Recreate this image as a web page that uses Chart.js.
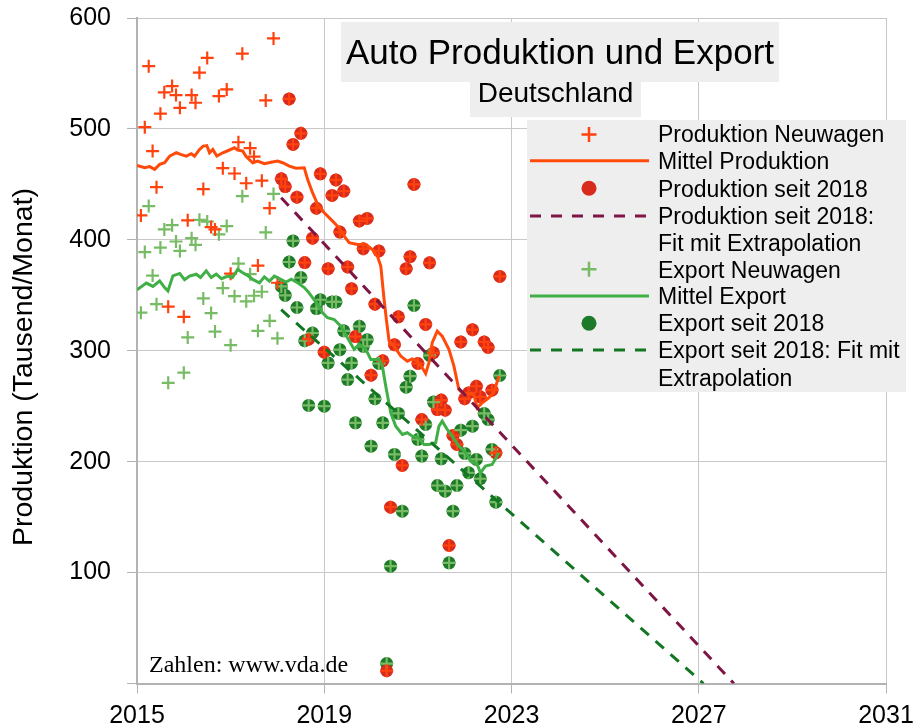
<!DOCTYPE html>
<html><head><meta charset="utf-8">
<script src="https://cdn.jsdelivr.net/npm/chart.js@4.4.1/dist/chart.umd.min.js"></script>
<style>html,body{margin:0;padding:0;background:#fff;}#wrap{width:919px;height:728px;}</style>
</head><body><div id="wrap"><canvas id="c" width="919" height="728"></canvas></div>
<script>
// ---------- data (Tausend Pkw pro Monat), Jan 2015 .. Sep 2022 ----------
const startYear = 2015;
const produktion = [
  422, 501.6, 556.6, 480, 447.5, 513.7, 533, 339.7, 538.6, 530.5, 519, 330.6,
  417.6, 530.5, 523.6, 550.7, 445.8, 564, 411.5, 409.4, 529.6, 464.6, 535.6, 369.5,
  459.8, 488, 567.8, 451, 482.6, 475, 376.8, 453.3, 525.7, 428.5, 581.6, 361.3,
  455, 448, 527, 486, 438.5, 496, 379.5, 310.4, 401.5, 428.5, 459.5, 298.7,
  374, 440, 454, 407, 444, 375.5, 356, 312.8, 417, 392, 419.3, 278,
  342, 390, 291, 11.5, 159, 305.5, 330.6, 196.6, 374, 384.8, 450, 288.5,
  238, 323.7, 379.3, 298.2, 247, 255.5, 246.4, 124.4, 223.6, 215.5, 308, 256.7,
  262, 319, 268, 258.5, 308, 303, 264.5, 208, 367
];
const exporte = [
  334.3, 389, 430.4, 367.8, 342, 393, 409.4, 271.1, 413.2, 398.5, 390, 280.2,
  312, 401.5, 395.5, 418, 347.2, 416.5, 334, 317.3, 405, 356.5, 412.4, 305,
  349.2, 378.6, 439.4, 344.6, 369, 349.6, 318, 353.2, 406.7, 327, 441.4, 311.2,
  358, 350, 380, 399, 339, 366, 309, 250.7, 316, 338, 346, 250,
  289, 344, 344, 301, 318, 274, 289, 235, 322, 304, 310, 214,
  256.7, 288.5, 235, 18, 105.8, 206.5, 243.5, 155.4, 267.2, 277.1, 340.8, 220,
  205, 233.5, 295.8, 253.7, 178.5, 202.6, 173.4, 108.8, 155.4, 178.5, 228.4, 207.4,
  190, 232, 202, 184.6, 243.5, 238, 211, 163.5, 277.7
];
const seit2018Start = 36; // index of Jan 2018

const mittelProdX = [2015.00,2015.164,2015.271,2015.377,2015.484,2015.590,2015.697,2015.840,2015.931,2016.053,2016.159,2016.229,2016.336,2016.415,2016.492,2016.549,2016.619,2016.705,2016.833,2016.975,2017.082,2017.152,2017.259,2017.331,2017.472,2017.578,2017.721,2017.864,2018.004,2018.111,2018.254,2018.397,2018.573,2018.644,2018.750,2018.857,2019.000,2019.142,2019.283,2019.426,2019.532,2019.709,2019.888,2020.029,2020.135,2020.208,2020.278,2020.327,2020.385,2020.491,2020.634,2020.774,2020.881,2020.988,2021.094,2021.167,2021.237,2021.307,2021.414,2021.520,2021.663,2021.770,2021.876,2021.983,2022.089,2022.196,2022.266,2022.373,2022.516,2022.622,2022.729];
const mittelProdY = [467,465,466,463.5,468,469.5,475.5,478.5,477,475.5,477.6,475.5,481.5,484.5,485,478.5,481.5,475.5,478.5,481,483,481,480,475,469.5,471,468.6,470,471,469.5,466.5,464.5,465,454.5,442.5,432,424.4,418.4,412.4,403.4,397.4,395.9,395.9,391.3,385.3,376.3,346.3,328.2,308.7,304.2,295.2,290.6,292.7,290.6,284.7,279.5,289.2,307.2,317.7,313.2,301.2,286.1,265.1,260.6,261.5,260.6,248.6,253,257.6,262.1,277.1];
const mittelExportX = [2015.00,2015.200,2015.341,2015.484,2015.590,2015.661,2015.767,2015.910,2016.016,2016.123,2016.266,2016.357,2016.479,2016.585,2016.692,2016.805,2016.939,2017.039,2017.152,2017.259,2017.359,2017.472,2017.615,2017.721,2017.828,2017.934,2018.041,2018.183,2018.296,2018.431,2018.573,2018.659,2018.750,2018.857,2018.963,2019.070,2019.213,2019.355,2019.496,2019.639,2019.745,2019.888,2019.995,2020.172,2020.242,2020.314,2020.421,2020.527,2020.668,2020.774,2020.881,2021.003,2021.130,2021.237,2021.380,2021.450,2021.520,2021.627,2021.733,2021.876,2022.019,2022.125,2022.266,2022.338,2022.445,2022.586,2022.692,2022.729];
const mittelExportY = [355,361,358,363,357,354,367.5,369.7,364,367.3,369,366,372,366,369,365,367.3,366,373.3,370.3,368,364.3,361.3,366.7,362.8,367.3,365,362,364.5,361.3,357,353,347.8,341.8,334.3,329.8,328.2,322.2,311.7,301.2,305.7,301.2,292.2,292.2,286.1,268,244.1,232,224.5,226.1,223,222,215.5,215.5,217,232,236.5,229,223,214,208,200.5,197.5,190,196,197.5,205,208];

const fitProdX = [2018.08, 2027.75];
const fitProdY = [438, 0];
const fitExportX = [2018.08, 2027.1];
const fitExportY = [337, 0];

const xTicks = [2015, 2019, 2023, 2027, 2031];
const yTicks = [0, 100, 200, 300, 400, 500, 600];

const titleText = 'Auto Produktion und Export';
const subtitleText = 'Deutschland';
const yTitle = 'Produktion (Tausend/Monat)';
const sourceText = 'Zahlen: www.vda.de';
const legendLines = [
  'Produktion Neuwagen', 'Mittel Produktion', 'Produktion seit 2018', 'Produktion seit 2018:',
  'Fit mit Extrapolation', 'Export Neuwagen', 'Mittel Export', 'Export seit 2018',
  'Export seit 2018: Fit mit', 'Extrapolation'
];

// ---------- colours ----------
const C = {
  prodCross: '#ff420e', prodLine: '#ff4a0a', prodDot: '#d92b1c', prodFit: '#7e1545',
  expCross: '#77bc65', expLine: '#3faf46', expDot: '#1c7a28', expFit: '#127622'
};

// ---------- build point lists ----------
const monthX = i => startYear + (i + 1) / 12;
const pts = (arr, from) => arr.slice(from).map((v, j) => ({ x: monthX(j + from), y: v }));
const xy = (xs, ys) => xs.map((x, i) => ({ x: x, y: ys[i] }));

Chart.defaults.font.family = '"Liberation Sans", Arial, sans-serif';
Chart.defaults.color = '#000';

const overlay = {
  id: 'overlay',
  afterDraw(chart) {
    const ctx = chart.ctx;
    ctx.save();
    // y axis title
    ctx.save();
    ctx.translate(32, 367);
    ctx.rotate(-Math.PI / 2);
    ctx.font = '28.5px "Liberation Sans"';
    ctx.fillStyle = '#000';
    ctx.textAlign = 'center';
    ctx.textBaseline = 'alphabetic';
    ctx.fillText(yTitle, 0, 0);
    ctx.restore();
    // title boxes
    ctx.fillStyle = '#eeeeee';
    ctx.fillRect(341, 22, 438, 60);
    ctx.fillRect(470, 82, 171, 35);
    ctx.fillStyle = '#000';
    ctx.textAlign = 'center';
    ctx.textBaseline = 'alphabetic';
    ctx.font = '35px "Liberation Sans"';
    ctx.fillText(titleText, 560, 64);
    ctx.font = '28px "Liberation Sans"';
    ctx.fillText(subtitleText, 555.5, 102);
    // source
    ctx.textAlign = 'left';
    ctx.font = '24px "Liberation Serif"';
    ctx.fillText(sourceText, 149, 672);
    // legend
    ctx.fillStyle = '#eeeeee';
    ctx.fillRect(527, 120, 379, 272);
    const rows = [134, 161.7, 189, 216, 243.3, 270, 296.7, 323.3, 350.7, 378.3];
    ctx.fillStyle = '#000';
    ctx.font = '23px "Liberation Sans"';
    ctx.textAlign = 'left';
    legendLines.forEach((t, i) => ctx.fillText(t, 658, rows[i] + 7.7));
    const sx = 589;
    const cross = (y, col) => {
      ctx.strokeStyle = col; ctx.lineWidth = 2.5; ctx.beginPath();
      ctx.moveTo(sx - 7.5, y); ctx.lineTo(sx + 7.5, y);
      ctx.moveTo(sx, y - 7.5); ctx.lineTo(sx, y + 7.5); ctx.stroke();
    };
    const line = (y, col, dash) => {
      ctx.strokeStyle = col; ctx.lineWidth = 3; ctx.setLineDash(dash || []);
      ctx.beginPath(); ctx.moveTo(530, y); ctx.lineTo(649, y); ctx.stroke(); ctx.setLineDash([]);
    };
    const dot = (y, col) => {
      ctx.fillStyle = col; ctx.beginPath(); ctx.arc(sx, y, 7.5, 0, Math.PI * 2); ctx.fill();
    };
    cross(134.5, C.prodCross);
    line(160.7, C.prodLine);
    dot(188.3, C.prodDot);
    line(216, C.prodFit, [11, 10]);
    cross(269.3, C.expCross);
    line(296, C.expLine);
    dot(323.3, C.expDot);
    line(350, C.expFit, [11, 10]);
    ctx.restore();
  }
};

new Chart(document.getElementById('c'), {
  type: 'scatter',
  data: {
    datasets: [
      { label: 'Produktion seit 2018: Fit mit Extrapolation', data: xy(fitProdX, fitProdY), showLine: true,
        borderColor: C.prodFit, borderWidth: 3, borderDash: [11, 9], pointRadius: 0, order: 1 },
      { label: 'Export seit 2018: Fit mit Extrapolation', data: xy(fitExportX, fitExportY), showLine: true,
        borderColor: C.expFit, borderWidth: 3, borderDash: [11, 9], pointRadius: 0, order: 2 },
      { label: 'Mittel Produktion', data: xy(mittelProdX, mittelProdY), showLine: true,
        borderColor: C.prodLine, borderWidth: 3, pointRadius: 0, order: 3 },
      { label: 'Mittel Export', data: xy(mittelExportX, mittelExportY), showLine: true,
        borderColor: C.expLine, borderWidth: 3, pointRadius: 0, order: 4 },
      { label: 'Produktion Neuwagen', data: pts(produktion, 0), pointStyle: 'cross',
        pointRadius: 6.5, borderColor: C.prodCross, borderWidth: 2.2, backgroundColor: C.prodCross, order: 5 },
      { label: 'Export Neuwagen', data: pts(exporte, 0), pointStyle: 'cross',
        pointRadius: 6.5, borderColor: C.expCross, borderWidth: 2.2, backgroundColor: C.expCross, order: 6 },
      { label: 'Produktion seit 2018', data: pts(produktion, seit2018Start), pointStyle: 'circle',
        pointRadius: 6.5, borderWidth: 0, backgroundColor: C.prodDot, borderColor: C.prodDot, order: 7 },
      { label: 'Export seit 2018', data: pts(exporte, seit2018Start), pointStyle: 'circle',
        pointRadius: 6.5, borderWidth: 0, backgroundColor: C.expDot, borderColor: C.expDot, order: 8 }
    ]
  },
  options: {
    responsive: false,
    animation: false,
    devicePixelRatio: 1,
    layout: { padding: { top: 18, right: 33, left: 0, bottom: 0 } },
    plugins: { legend: { display: false }, tooltip: { enabled: false } },
    scales: {
      x: {
        type: 'linear', min: xTicks[0], max: xTicks[xTicks.length - 1],
        afterBuildTicks: s => { s.ticks = xTicks.map(v => ({ value: v })); },
        afterFit: s => { s.height = 44.5; s.paddingLeft = 0; s.paddingRight = 0; },
        ticks: { font: { size: 25 }, color: '#000', padding: 8, maxRotation: 0, callback: v => String(v) },
        grid: { color: '#c8c8c8', lineWidth: 1, tickLength: 10, tickColor: '#b3b3b3' },
        border: { color: '#b3b3b3', width: 2 }
      },
      y: {
        min: yTicks[0], max: yTicks[yTicks.length - 1],
        afterBuildTicks: s => { s.ticks = yTicks.map(v => ({ value: v })); },
        afterFit: s => { s.width = 137; s.paddingTop = 0; s.paddingBottom = 0; },
        ticks: { font: { size: 25 }, color: '#000', padding: 16, callback: v => (v === 0 ? '' : String(v)) },
        grid: { color: '#c8c8c8', lineWidth: 1, tickLength: 10, tickColor: '#b3b3b3' },
        border: { color: '#b3b3b3', width: 2 }
      }
    }
  },
  plugins: [overlay]
});
</script>
</body></html>
